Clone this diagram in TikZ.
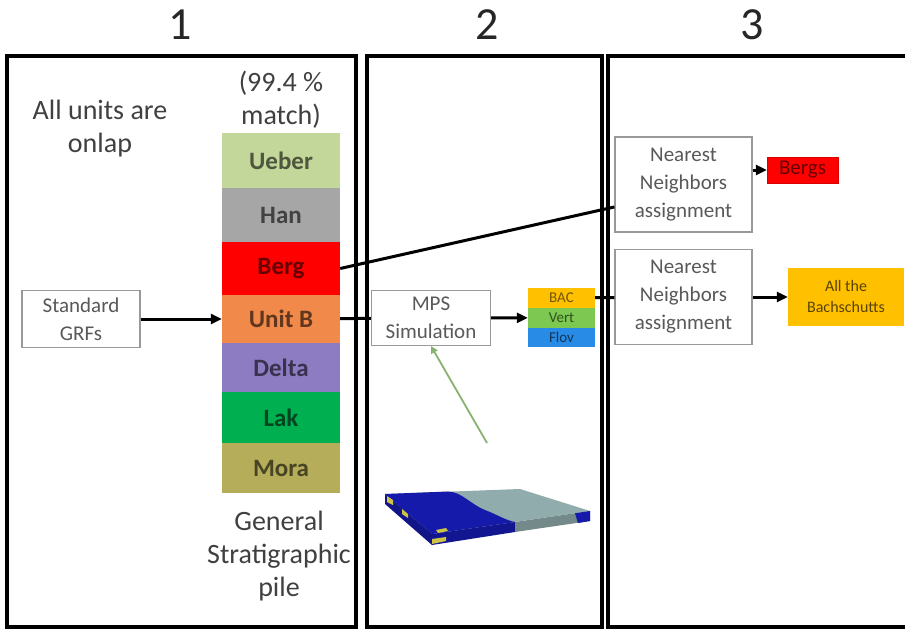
\documentclass[tikz,border=0pt]{standalone}
\usepackage{fontspec}
\setmainfont{Carlito}
\usetikzlibrary{arrows.meta, positioning}

\definecolor{ueber}{RGB}{196,215,155}
\definecolor{han}{RGB}{166,166,166}
\definecolor{berg}{RGB}{255,0,0}
\definecolor{unitb}{RGB}{240,137,74}
\definecolor{delta}{RGB}{142,124,195}
\definecolor{lak}{RGB}{0,176,80}
\definecolor{mora}{RGB}{181,173,90}
\definecolor{bac}{RGB}{255,192,0}
\definecolor{vert}{RGB}{124,200,80}
\definecolor{flov}{RGB}{40,140,230}
\definecolor{slabblue}{RGB}{22,26,170}
\definecolor{slabgrey}{RGB}{145,172,172}
\definecolor{slabyellow}{RGB}{205,195,70}
\definecolor{feed}{RGB}{135,178,112}

\begin{document}
\begin{tikzpicture}[
    x=1pt, y=-1pt,
    >={Triangle[length=11pt, width=10pt]},
    panel/.style={draw, line width=3.5pt},
    title/.style={font=\fontsize{46}{50}\selectfont, text=black!85},
    note/.style={align=center, font=\fontsize{28}{33}\selectfont,
                 text=black!75},
    unit/.style={minimum width=118pt, inner sep=0pt,
                 font=\fontsize{25}{30}\selectfont\bfseries},
    proc/.style={draw=gray!80, line width=1.2pt, fill=white, align=center,
                 inner sep=0pt, text=black!65,
                 font=\fontsize{21}{28}\selectfont},
    facies/.style={minimum width=67pt, minimum height=19.4pt, inner sep=0pt,
                   font=\fontsize{15}{15}\selectfont},
    link/.style={line width=3pt}
  ]
  \useasboundingbox (0,0) rectangle (905,629);

  % Panels
  \draw[panel] (7,56) rectangle (356,627);
  \draw[panel] (367,56) rectangle (602,627);
  \draw[panel] (910,56) -- (608,56) -- (608,627) -- (910,627);
  \node[title] (t1) at (180,25) {1};
  \node[title] (t2) at (487,25) {2};
  \node[title] (t3) at (752,25) {3};

  % Stratigraphic pile
  \foreach \i/\lab/\col/\t/\b in {0/Ueber/ueber/133/188, 1/Han/han/188/242,
      2/Berg/berg/242/295, 3/Unit B/unitb/295/343, 4/Delta/delta/343/392,
      5/Lak/lak/392/443, 6/Mora/mora/443/493} {
    \node[unit, fill=\col, text=\col!40!black,
          minimum height={(\b-\t+0.6)*1pt}] (u\i) at (281,{(\t+\b)/2}) {\lab};
  }
  \node[note] (onlap) at (100,129) {All units are\\onlap};
  \node[note] (match) at (281,100) {(99.4 \%\\match)};
  \node[note] (pile) at (279,556) {General\\Stratigraphic\\pile};

  \node[proc, minimum width=118pt, minimum height=57pt] (grf) at (81,319)
    {Standard\\GRFs};
  \draw[link, ->] (grf) -- (u3);

  % Simulation
  \node[proc, minimum width=119pt, minimum height=55pt] (mps) at (431,318)
    {MPS\\Simulation};
  \node[facies, fill=bac, text=bac!45!black] (bac) at (561.5,298) {BAC};
  \node[facies, fill=vert, text=vert!40!black, below=0pt of bac] (vert) {Vert};
  \node[facies, fill=flov, text=flov!40!black, below=0pt of vert] (flov) {Flov};
  \draw[link] (u3) -- (mps);
  \draw[link, ->] (mps) -- (vert);

  % Training image block
  \fill[slabgrey] (385,494) -- (520,489) -- (590,511) -- (432,534) -- cycle;
  \fill[slabblue] (385,494) -- (448,491.5) .. controls (462,492) and (470,504)
    .. (485,510) .. controls (498,515) and (505,520) .. (515,522)
    -- (432,534) -- cycle;
  \fill[slabblue!80!black] (385,494) -- (432,534) -- (432,545) -- (385,504)
    -- cycle;
  \fill[slabblue!85!black] (432,534) -- (515,522) -- (515,532) -- (432,545)
    -- cycle;
  \fill[slabgrey!80!black] (515,522) -- (590,511) -- (590,521) -- (515,532)
    -- cycle;
  \fill[slabblue] (575,513.3) -- (590,511) -- (590,521) -- (578,523) -- cycle;
  \fill[slabyellow] (387,496) -- (393,500) -- (393,505) -- (387,502) -- cycle;
  \fill[slabyellow] (402,509) -- (408,514) -- (408,518) -- (402,514) -- cycle;
  \fill[slabyellow] (432,539) -- (446,537) -- (446,541) -- (432,544) -- cycle;
  \fill[slabyellow] (436,530) -- (446,528) -- (448,531) -- (438,533) -- cycle;
  \coordinate (slabtop) at (487,443);
  \draw[feed, line width=1.8pt, -{Triangle[length=7pt, width=7pt]}]
    (slabtop) -- (mps.south);

  % Nearest neighbors
  \node[proc, minimum width=137pt, minimum height=95pt] (nn1) at (683.5,184.5)
    {Nearest\\Neighbors\\assignment};
  \node[proc, minimum width=137pt, minimum height=95pt] (nn2) at (683.5,297)
    {Nearest\\Neighbors\\assignment};
  \node[fill=berg, draw=berg!85!black, minimum width=71pt, minimum height=26pt,
        inner sep=0pt, text=berg!40!black, font=\fontsize{21}{21}\selectfont]
    (bergs) at (802.5,170) {Bergs};
  \node[fill=bac, minimum width=116pt, minimum height=58pt, inner sep=0pt,
        align=center, text=bac!35!black, font=\fontsize{16}{21}\selectfont]
    (bach) at (846,297) {All the\\Bachschutts};
  \draw[link] (u2.east) -- (nn1.198);
  \draw[link] (bac) -- (nn2);
  \draw[link, ->] (bergs.west -| nn1.east) -- (bergs.west);
  \draw[link, ->] (nn2) -- (bach);
\end{tikzpicture}
\end{document}
